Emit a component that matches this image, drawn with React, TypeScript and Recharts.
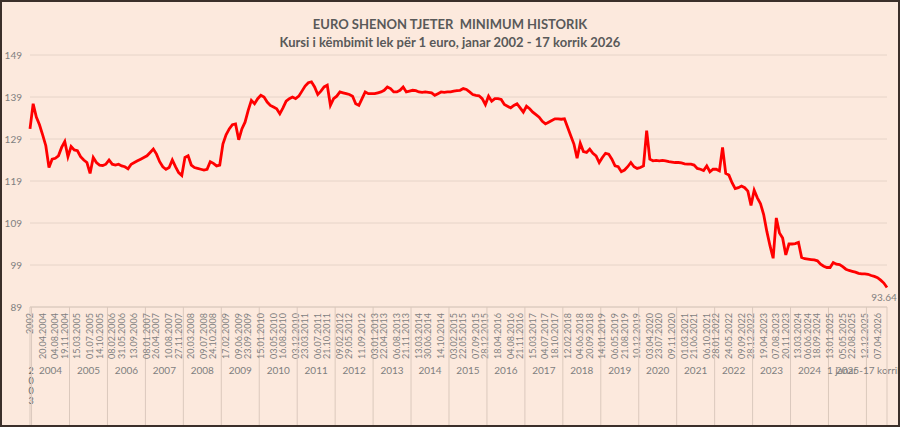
import React from "react";
import { LineChart, Line, XAxis, YAxis, CartesianGrid } from "recharts";

const title = "EURO SHENON TJETER  MINIMUM HISTORIK";
const subtitle = "Kursi i këmbimit lek për 1 euro, janar 2002 - 17 korrik 2026";

// group labels of the second axis row
const groupLabels = [
  "2003", "2004", "2005", "2006", "2007", "2008", "2009", "2010", "2011",
  "2012", "2013", "2014", "2015", "2016", "2017", "2018", "2019", "2020",
  "2021", "2022", "2023", "2024", "2025", "1 janar -17 korrik 2026",
];

// lek per 1 euro (one value per month)
const v2002 = [131.4];
const v2004 = [137.4, 134.2, 132.4, 130, 127.4, 122.2, 124.2, 124.4, 125, 127, 128.4, 124.8];
const v2005 = [127.2, 126.4, 126.2, 124.8, 124, 123.4, 120.8, 124.6, 123.4, 122.8, 122.7, 123];
const v2006 = [124, 123, 122.8, 123, 122.6, 122.4, 121.9, 123, 123.4, 123.8, 124.2, 124.6];
const v2007 = [125, 125.8, 126.6, 125.4, 123.6, 122.4, 121.8, 122.2, 124, 122.4, 121, 120.3];
const v2008 = [124.6, 125, 122.8, 122.2, 122, 121.8, 121.6, 121.8, 123.6, 123.2, 122.6, 122.8];
const v2009 = [127.8, 130, 131.4, 132.4, 132.6, 128.8, 131.4, 133, 135.8, 138.2, 137.4, 138.6];
const v2010 = [139.4, 139, 137.8, 137, 136.6, 136.2, 135, 136.4, 138, 138.6, 139, 138.6];
const v2011 = [139.2, 140.4, 141.6, 142.4, 142.6, 141.4, 139.6, 140.4, 141.4, 141.8, 137, 138.6];
const v2012 = [139.2, 140.2, 140, 139.8, 139.6, 139.2, 137.4, 137, 138.6, 140.2, 139.8, 139.8];
const v2013 = [139.8, 140, 140.2, 140.6, 141.4, 141, 140.2, 140.2, 140.6, 141.4, 140.2, 140.4];
const v2014 = [140.6, 140.5, 140.2, 140.1, 140.2, 140.1, 140, 139.4, 139.8, 140.2, 140.1, 140.2];
const v2015 = [140.2, 140.4, 140.5, 140.6, 141, 140.8, 140.2, 139.6, 139.4, 139.3, 138.6, 137.2];
const v2016 = [139.2, 138, 138.6, 138.6, 138.4, 137.2, 136.8, 136.4, 137, 137.4, 136.4, 135.4];
const v2017 = [136.8, 136.2, 135.4, 134.8, 134.2, 133.2, 132.6, 133, 133.4, 133.8, 133.8, 133.7];
const v2018 = [133.8, 131.8, 129.8, 127.8, 124.4, 128, 126, 125.8, 126.6, 125.6, 125, 123.4];
const v2019 = [124.6, 125.6, 125.4, 124.2, 122.6, 122.4, 121.2, 121.6, 122.4, 123.4, 122.4, 122];
const v2020 = [122.2, 122.6, 131, 124.2, 123.8, 123.9, 123.8, 123.9, 123.8, 123.6, 123.5, 123.4];
const v2021 = [123.4, 123.3, 123.1, 123, 123, 122.8, 122, 121.8, 121.5, 122.6, 121.2, 121.8];
const v2022 = [121.8, 121.4, 127, 120.8, 120.4, 118.6, 117.2, 117.4, 117.8, 117.4, 116.6, 113.2];
const v2023 = [116.8, 115, 113.6, 111, 107, 103.6, 100.6, 110.2, 106.6, 105.4, 101.4, 104];
const v2024 = [104, 104.1, 104.4, 100.8, 100.5, 100.4, 100.3, 100.2, 100, 99.2, 98.7, 98.4];
const v2025 = [98.4, 99.6, 99.2, 99.1, 98.6, 98, 97.7, 97.5, 97.3, 97, 96.9, 96.9];
const v2026 = [96.8, 96.5, 96.3, 96, 95.4, 94.7, 93.64];

const groups = [
  v2002, v2004, v2005, v2006, v2007, v2008, v2009, v2010, v2011, v2012, v2013, v2014,
  v2015, v2016, v2017, v2018, v2019, v2020, v2021, v2022, v2023, v2024, v2025, v2026,
];

// rotated date labels on the first axis row
const dateTicks = [
  "2002", "20.04.2004", "04.08.2004", "19.11.2004", "15.03.2005", "01.07.2005", "14.10.2005",
  "08.02.2006", "31.05.2006", "13.09.2006", "08.01.2007", "26.04.2007", "10.08.2007",
  "27.11.2007", "20.03.2008", "09.07.2008", "24.10.2008", "17.02.2009", "09.06.2009",
  "23.09.2009", "15.01.2010", "03.05.2010", "16.08.2010", "03.12.2010", "23.03.2011",
  "06.07.2011", "21.10.2011", "09.02.2012", "29.05.2012", "11.09.2012", "03.01.2013",
  "22.04.2013", "06.08.2013", "21.11.2013", "13.03.2014", "30.06.2014", "14.10.2014",
  "03.02.2015", "22.05.2015", "07.09.2015", "28.12.2015", "18.04.2016", "04.08.2016",
  "21.11.2016", "15.03.2017", "04.07.2017", "18.10.2017", "12.02.2018", "04.06.2018",
  "20.09.2018", "14.01.2019", "06.05.2019", "21.08.2019", "10.12.2019", "03.04.2020",
  "23.07.2020", "09.11.2020", "01.03.2021", "21.06.2021", "06.10.2021", "28.01.2022",
  "24.05.2022", "09.09.2022", "28.12.2022", "19.04.2023", "07.08.2023", "20.11.2023",
  "13.03.2024", "06.06.2024", "18.09.2024", "13.01.2025", "05.05.2025", "22.08.2025",
  "12.12.2025", "07.04.2026",
];

const yTicks = [89, 99, 109, 119, 129, 139, 149];

type Row = { key: string; kurs: number; g: number; m: number; tick: string };

const rows: Row[] = [];
groups.forEach((vals, g) =>
  vals.forEach((v, m) => rows.push({ key: `${g}-${m}`, kurs: v, g, m, tick: "" }))
);
dateTicks.forEach((t, i) => {
  if (i === 0) {
    rows[0].tick = t;
    return;
  }
  const [, mm, yyyy] = t.split(".");
  const r = rows.find((row) => row.g === Number(yyyy) - 2003 && row.m === Number(mm) - 1);
  if (r) r.tick = t;
});
const rowByKey: Record<string, Row> = {};
rows.forEach((r) => (rowByKey[r.key] = r));

const GRAY = "#7f7f7f";
const SEP = "#dbc9bd";

const AxisTick = (props: any) => {
  const { x, y, payload } = props;
  const row = rowByKey[payload.value];
  if (!row) return null;
  const n = groups[row.g].length;
  const isLast = row.key === rows[rows.length - 1].key;
  const sepX = row.g === 0 ? x : x - 1.6;
  return (
    <g>
      {row.m === 0 && <line x1={sepX} y1={y} x2={sepX} y2={y + 118} stroke={SEP} />}
      {isLast && <line x1={x} y1={y} x2={x} y2={y + 118} stroke={SEP} />}
      {row.tick && (
        <text
          transform={`translate(${x + 3},${y + 6}) rotate(-90)`}
          textAnchor="end"
          fontSize={9}
          fill={GRAY}
        >
          {row.tick}
        </text>
      )}
      {row.g === 0 && row.m === 0 && (
        <text x={x + 1} y={y + 67} textAnchor="middle" fontSize={9} fill="#666">
          {groupLabels[0].split("").map((c, i) => (
            <tspan key={i} x={x + 1} dy={i === 0 ? 0 : 10}>
              {c}
            </tspan>
          ))}
        </text>
      )}
      {row.g > 0 && row.m === Math.floor(n / 2) && (
        <text
          x={n % 2 === 0 ? x - 1.6 : x}
          y={y + 67}
          textAnchor="middle"
          fontSize={10}
          fill={GRAY}
        >
          {groupLabels[row.g]}
        </text>
      )}
    </g>
  );
};

const EndLabel = (props: any) => {
  const { x, y, index, value } = props;
  if (index !== rows.length - 1) return null;
  return (
    <text x={x - 3} y={y + 13} textAnchor="middle" fontSize={10} fill={GRAY}>
      {value}
    </text>
  );
};

export default function App() {
  return (
    <div
      style={{
        position: "fixed",
        left: 0,
        top: 0,
        width: 900,
        height: 427,
        background: "#fce9dd",
        fontFamily: "Lato, sans-serif",
      }}
    >
      <div
        style={{
          position: "absolute",
          top: 15,
          left: 0,
          width: 900,
          textAlign: "center",
          fontWeight: "bold",
          fontSize: 13,
          lineHeight: "18px",
          color: "#595959",
        }}
      >
        <div style={{ whiteSpace: "pre" }}>{title}</div>
        <div>{subtitle}</div>
      </div>
      <LineChart
        width={900}
        height={427}
        data={rows}
        margin={{ top: 55, right: 13, left: 0, bottom: 2 }}
      >
        <CartesianGrid vertical={false} stroke="#e6d4c8" />
        <XAxis
          dataKey="key"
          type="category"
          interval={0}
          height={118}
          tickLine={false}
          tickSize={0}
          tickMargin={0}
          stroke="#d9c8bc"
          tick={<AxisTick />}
        />
        <YAxis
          domain={[89, 149]}
          ticks={yTicks}
          width={30}
          axisLine={false}
          tickLine={false}
          tick={{ fontSize: 10, fill: GRAY }}
        />
        <Line
          type="linear"
          dataKey="kurs"
          stroke="#ff0000"
          strokeWidth={2.8}
          dot={false}
          isAnimationActive={false}
          label={<EndLabel />}
        />
      </LineChart>
      <div
        style={{
          position: "absolute",
          left: 0,
          top: 0,
          width: 900,
          height: 427,
          boxSizing: "border-box",
          border: "2px solid #3b2f2a",
          pointerEvents: "none",
        }}
      />
    </div>
  );
}
